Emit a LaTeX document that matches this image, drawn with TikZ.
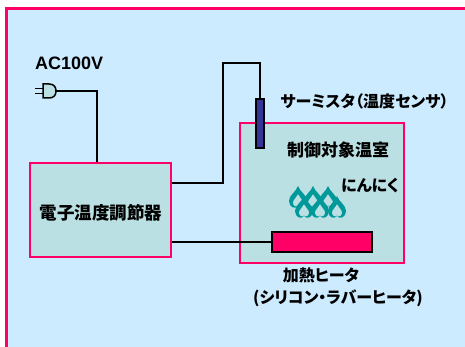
\documentclass[tikz,border=0pt]{standalone}
\usepackage{fontspec}
\setmainfont{Liberation Sans}
\newfontfamily\jpfont[RawFeature=+palt]{Noto Sans CJK JP}
\definecolor{bgc}{HTML}{CCEBFF}
\definecolor{boxc}{HTML}{BBE0E3}
\definecolor{pinkc}{HTML}{FF0066}
\definecolor{sensorc}{HTML}{333399}
\definecolor{garlic}{HTML}{009999}
\tikzset{
  wire/.style={draw=black, line width=2pt},
  unitbox/.style={draw=pinkc, fill=boxc, line width=2.5pt, inner sep=0pt},
  jptext/.style={font=\jpfont\bfseries\fontsize{16}{19}\selectfont, inner sep=0pt},
  clove/.pic={
    \fill[garlic] (0,-13) .. controls (2,-7) and (9,-4) .. (9,2)
      .. controls (9,8) and (3,11) .. (0,7)
      .. controls (-3,11) and (-9,8) .. (-9,2)
      .. controls (-9,-4) and (-2,-7) .. (0,-13) -- cycle;
    \fill[boxc, shift={(0,2.5)}, scale=0.55] (0,-13) .. controls (2,-7) and (9,-4) .. (9,2)
      .. controls (9,8) and (3,11) .. (0,7)
      .. controls (-3,11) and (-9,8) .. (-9,2)
      .. controls (-9,-4) and (-2,-7) .. (0,-13) -- cycle;
  }
}
\begin{document}
\begin{tikzpicture}[x=1pt, y=-1pt]
\useasboundingbox (0,0) rectangle (465,347);
\clip (0,0) rectangle (465,347);
\fill[white] (0,0) rectangle (465,347);
% outer panel, running off the right and bottom edges
\fill[bgc] (6,9) rectangle (465,347);
\draw[line width=3pt, draw=pinkc] (6,360) -- (6,9) -- (480,9);

% power plug
\node[font=\bfseries\fontsize{18}{21}\selectfont, anchor=west, inner sep=0pt] (ac) at (35,63) {AC100V};
\draw[line width=1.8pt] (35,88.5) -- (43,88.5) (35,93.5) -- (43,93.5);
\draw[line width=1.5pt, fill=boxc] (43,84) -- (49,84) .. controls (54,84) and (56,87) .. (56,91)
  .. controls (56,95) and (54,98) .. (49,98) -- (43,98) -- cycle;
\coordinate (plug) at (56,91);

% controller
\node[unitbox, minimum width=141pt, minimum height=94pt] (ctrl) at (100.5,210) {};
\node[jptext, font=\jpfont\bfseries\fontsize{17.5}{20}\selectfont] (ctrltext) at (101,213) {電子温度調節器};

% controlled chamber
\node[unitbox, minimum width=164pt, minimum height=140pt] (room) at (322,193) {};
\node[jptext, font=\jpfont\bfseries\fontsize{17}{20}\selectfont] (roomtext) at (338,150) {制御対象温室};
\node[jptext] (garlictext) at (370,186) {にんにく};
% garlic cloves, back row then front row
\pic at (298,199) {clove};
\pic at (313,199) {clove};
\pic at (328,199) {clove};
\pic at (304,209) {clove};
\pic at (320,209) {clove};
\pic at (337,209) {clove};

% sensor
\node[draw=black, fill=sensorc, line width=1.2pt, minimum width=8pt, minimum height=49pt, inner sep=0pt] (sensor) at (260,123.5) {};
\node[jptext] (sensortext) at (364.5,101) {サーミスタ（温度センサ）};

% heater
\node[draw=black, fill=pinkc, line width=2pt, minimum width=100pt, minimum height=20pt, inner sep=0pt] (heater) at (322,242) {};
\node[jptext] (heatertext) at (321,275) {加熱ヒータ};
\node[jptext] (heatertext2) at (338,298) {(シリコン・ラバーヒータ)};

% wiring
\coordinate (bend) at (223,63);
\draw[wire] (plug) -| ([xshift=-4pt]ctrl.north);
\draw[wire] ([yshift=27pt]ctrl.east) -| (bend) -| (sensor.north);
\draw[wire] (ctrl.east |- heater.west) -- (heater.west);
\node[draw=black, fill=pinkc, line width=2pt, minimum width=100pt, minimum height=20pt, inner sep=0pt] at (heater) {};
\end{tikzpicture}
\end{document}
